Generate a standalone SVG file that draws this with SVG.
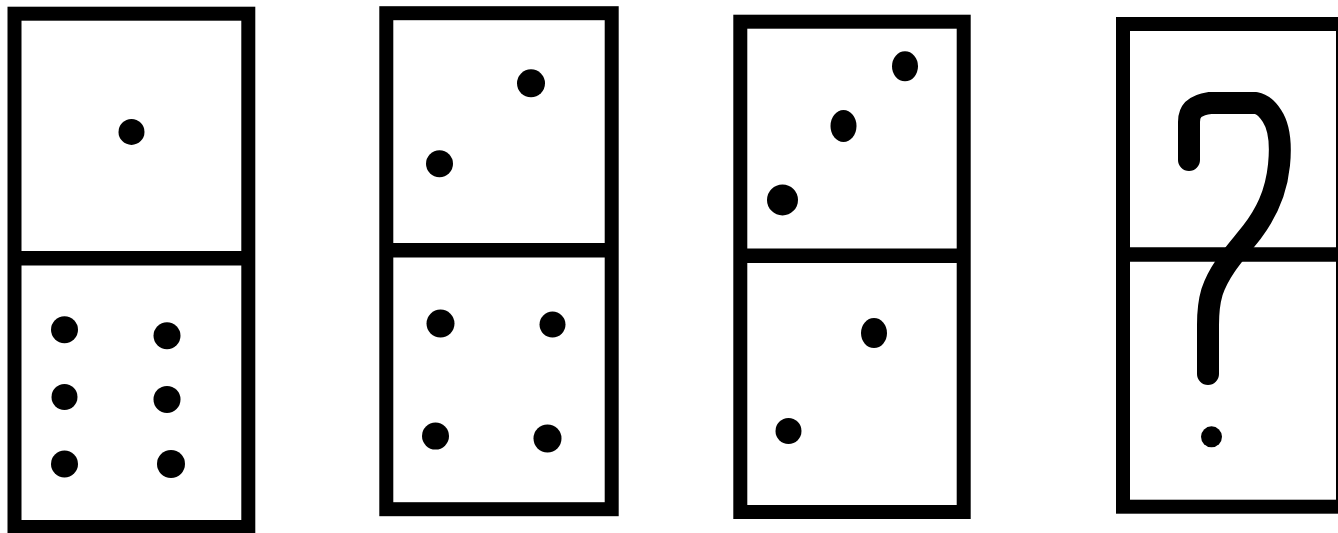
<svg xmlns="http://www.w3.org/2000/svg" width="1338" height="533" viewBox="0 0 1338 533">
<style>
.frame{fill:none;stroke:#000;stroke-width:14}
.div{stroke:#000;stroke-width:14.5}
.dot{fill:#000}
.q{fill:none;stroke:#000;stroke-width:22;stroke-linecap:round;stroke-linejoin:round}
</style>
<rect width="1338" height="533" fill="#fff"/>
<g id="domino1">
<rect class="frame" x="14.5" y="13.7" width="233.8" height="513.3"/>
<line class="div" x1="14.5" y1="258.3" x2="248.3" y2="258.3"/>
<circle class="dot" cx="131.5" cy="131.9" r="13"/>
<circle class="dot" cx="64.5" cy="329.7" r="13.5"/>
<circle class="dot" cx="167" cy="335.8" r="13.5"/>
<circle class="dot" cx="64.5" cy="397" r="13"/>
<circle class="dot" cx="167" cy="399.4" r="13.5"/>
<circle class="dot" cx="64.5" cy="464" r="13.5"/>
<circle class="dot" cx="171" cy="464" r="14"/>
</g>
<g id="domino2">
<rect class="frame" x="386.3" y="13.2" width="225.4" height="496"/>
<line class="div" x1="386.3" y1="250.2" x2="611.7" y2="250.2"/>
<circle class="dot" cx="531" cy="83.3" r="14"/>
<circle class="dot" cx="439.5" cy="163.8" r="13.5"/>
<circle class="dot" cx="440.5" cy="323.6" r="14"/>
<circle class="dot" cx="552.5" cy="324.6" r="13"/>
<circle class="dot" cx="435.5" cy="436.1" r="13.5"/>
<circle class="dot" cx="547.5" cy="438.5" r="14"/>
</g>
<g id="domino3">
<rect class="frame" x="740.3" y="21.7" width="223.4" height="490.3"/>
<line class="div" x1="740.3" y1="255.8" x2="963.7" y2="255.8"/>
<ellipse class="dot" cx="905" cy="66.3" rx="13" ry="15"/>
<ellipse class="dot" cx="843.5" cy="126" rx="13" ry="16"/>
<circle class="dot" cx="782.5" cy="199.9" r="15.5"/>
<ellipse class="dot" cx="874" cy="333.1" rx="13" ry="15"/>
<circle class="dot" cx="788.5" cy="431" r="13"/>
</g>
<g id="domino4">
<rect class="frame" x="1123" y="24" width="220" height="482.7"/>
<line class="div" x1="1123" y1="254.6" x2="1345" y2="254.6"/>
<path class="q" d="M1189,160 L1189,122 C1189,110 1196,105 1210,103 L1256,103 C1262,104 1268,110 1272,116 C1280,128 1281,145 1279,165 C1276,195 1265,215 1252,232 C1238,250 1220,268 1212,292 C1209,302 1208,312 1208,325 L1208,374"/>
<circle class="dot" cx="1211.5" cy="436.8" r="10.5"/>
</g>
</svg>
